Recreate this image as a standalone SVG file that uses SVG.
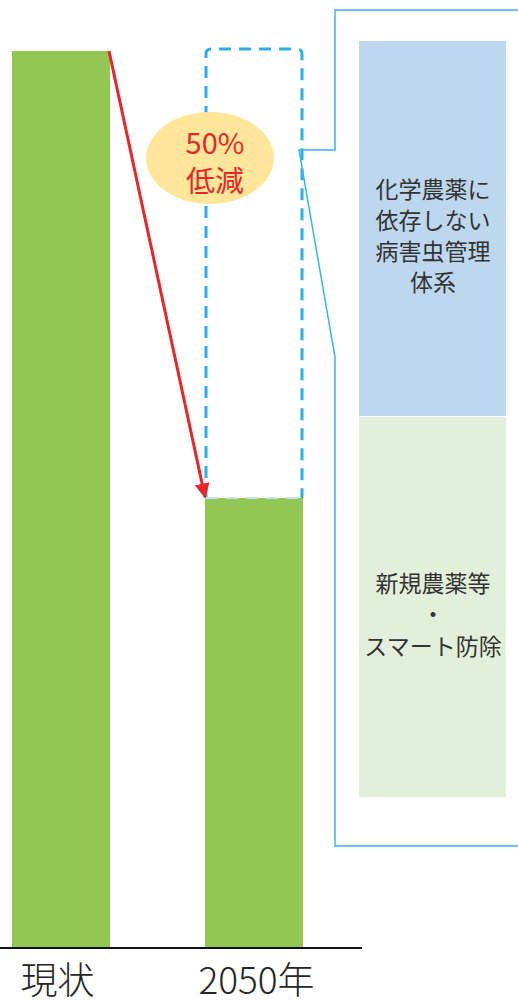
<svg xmlns="http://www.w3.org/2000/svg" width="518" height="1002" viewBox="0 0 518 1002">
<style>
.bar{fill:#92C755}
.lbl{font-family:"Noto Sans CJK JP","Noto Sans",sans-serif;fill:#262626;text-anchor:middle;font-weight:300}
.box{font-family:"Noto Sans CJK JP","Noto Sans",sans-serif;fill:#333;font-size:23px;text-anchor:middle}
.red{font-family:"Noto Sans CJK JP","Noto Sans",sans-serif;fill:#E8262A;font-size:29px;text-anchor:middle}
</style>
<defs>
<marker id="ah" viewBox="0 0 10 10" refX="9" refY="5" markerWidth="5" markerHeight="5" orient="auto" markerUnits="strokeWidth">
<path d="M0,0 L10,5 L0,10 z" fill="#E8262A"/>
</marker>
</defs>
<rect width="518" height="1002" fill="#fff"/>
<g id="bar-current"><rect class="bar" x="12" y="51" width="98" height="897"/></g>
<g id="bar-2050"><rect class="bar" x="205" y="498" width="98" height="450"/></g>
<g id="dashed-target"><path d="M206,498 V54 Q206,49 211,49 H297 Q302,49 302,54 V498" fill="none" stroke="#2EAEE8" stroke-width="3" stroke-dasharray="12,8"/><line x1="206" y1="498" x2="302" y2="498" stroke="#BFE3F5" stroke-width="2" stroke-dasharray="12,8"/></g>
<g id="axis"><line x1="0" y1="948" x2="362" y2="948" stroke="#111" stroke-width="2"/></g>
<g id="callout"><path d="M518,10 H335 V150 H299 L335,357 V846 H518" fill="none" stroke="#3DB4EA" stroke-width="1.5"/></g>
<g id="box-ipm"><rect x="359" y="41" width="147" height="375" fill="#BDD7EE"/>
<text class="box" x="433" y="198">化学農薬に</text>
<text class="box" x="433" y="229">依存しない</text>
<text class="box" x="433" y="260">病害虫管理</text>
<text class="box" x="433" y="291">体系</text></g>
<g id="box-new"><rect x="359" y="417" width="147" height="380" fill="#E2EFDA"/>
<text class="box" x="433" y="592">新規農薬等</text>
<text class="box" x="433" y="623">・</text>
<text class="box" x="433" y="655">スマート防除</text></g>
<g id="connectors"><line x1="109" y1="51" x2="205" y2="497" stroke="#E8262A" stroke-width="3" marker-end="url(#ah)"/></g>
<g id="badge"><ellipse cx="210" cy="158" rx="64" ry="46" fill="#FFE699"/>
<text class="red" x="215" y="154">50%</text>
<text class="red" x="215" y="192">低減</text></g>
<g id="labels"><text class="lbl" x="57.5" y="994" font-size="37">現状</text>
<text class="lbl" x="256.5" y="994" font-size="37">2050年</text></g>
</svg>
